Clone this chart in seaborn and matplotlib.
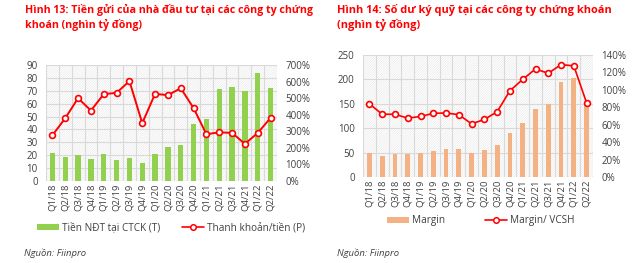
import matplotlib
matplotlib.use("Agg")
import matplotlib.pyplot as plt
import seaborn as sns
import pandas as pd
import numpy as np
from matplotlib.patches import Rectangle, Patch
from matplotlib.lines import Line2D

sns.set_theme(style="white")
plt.rcParams['font.family'] = ['Open Sans', 'DejaVu Sans']
plt.rcParams['hatch.linewidth'] = 0.4

quarters = ["Q1/18", "Q2/18", "Q3/18", "Q4/18", "Q1/19", "Q2/19", "Q3/19", "Q4/19",
            "Q1/20", "Q2/20", "Q3/20", "Q4/20", "Q1/21", "Q2/21", "Q3/21", "Q4/21",
            "Q1/22", "Q2/22"]
deposits = [22, 19, 20, 17, 21, 16, 18, 14, 21, 26, 28, 44, 48, 71, 73, 70, 84, 72]
liquidity_pct = [276, 379, 500, 425, 524, 532, 603, 349, 526, 518, 560, 440,
                 282, 294, 290, 224, 290, 381]
margin = [49, 43, 47, 47, 50, 54, 57, 58, 50, 56, 65, 91, 110, 139, 149, 195, 203, 147]
margin_vcsh_pct = [84, 72, 72, 67.5, 69.5, 73, 73.5, 71.5, 61, 66, 75, 99,
                   112, 124, 119, 129, 127.5, 85]

left_title = "Hình 13: Tiền gửi của nhà đầu tư tại các công ty chứng\nkhoán (nghìn tỷ đồng)"
right_title = "Hình 14: Số dư ký quỹ tại các công ty chứng khoán\n(nghìn tỷ đồng)"
source = "Nguồn: Fiinpro"

W, H = 640, 263
fig = plt.figure(figsize=(W / 100, H / 100), dpi=100)

GREEN = "#92D050"
ORANGE = "#F4B183"
RED = "#FF0000"
GRID = "#D9D9D9"
TXT = "#404040"


def ax_rect(x0, y0, x1, y1):
    return [x0 / W, 1 - y1 / H, (x1 - x0) / W, (y1 - y0) / H]


def style_axes(ax, ax2, n):
    bars = list(ax.patches)
    for p in bars:
        p.set_zorder(3)
        p.set_linewidth(0)
        p.set_edgecolor("none")
    ax.add_patch(Rectangle((0, 0), 1, 1, transform=ax.transAxes, facecolor="white",
                           edgecolor="#E6E6E6", hatch="/" * 14, lw=0, zorder=0))
    for a in (ax, ax2):
        for s in a.spines.values():
            s.set_visible(False)
    ax.set_xlim(-0.5, n - 0.5)
    ax.set_xticks(np.arange(-0.5, n, 1.0), minor=True)
    ax.grid(True, axis="y", color=GRID, lw=0.8, zorder=1)
    ax.grid(True, axis="x", which="minor", color=GRID, lw=0.8, zorder=1)
    ax.grid(False, axis="x", which="major")
    ax.tick_params(axis="x", which="both", length=0, labelsize=6.8, labelrotation=90,
                   colors=TXT, pad=2)
    ax.tick_params(axis="y", length=0, labelsize=7, colors=TXT, pad=6)
    ax2.tick_params(axis="y", length=0, labelsize=7, colors=TXT, pad=6)
    ax.set_xlabel("")
    ax.set_ylabel("")
    ax2.set_xlabel("")
    ax2.set_ylabel("")
    ax.set_axisbelow(True)


n = len(quarters)
df1 = pd.DataFrame({"q": quarters, "dep": deposits, "liq": np.array(liquidity_pct) / 100})
df2 = pd.DataFrame({"q": quarters, "m": margin, "r": np.array(margin_vcsh_pct) / 100})
df1["x"] = np.arange(n)
df2["x"] = np.arange(n)

# ---- Left chart
axL = fig.add_axes(ax_rect(46, 65, 277, 181))
sns.barplot(data=df1, x="q", y="dep", color=GREEN, width=0.42, saturation=1, ax=axL,
            linewidth=0, edgecolor="none")
axL.set_ylim(0, 90)
axL.set_yticks(np.arange(0, 91, 10))
axL2 = axL.twinx()
sns.lineplot(data=df1, x="x", y="liq", color=RED, lw=1.4, marker="o", markersize=4.2,
             markerfacecolor="white", markeredgecolor=RED, markeredgewidth=1.2, ax=axL2)
axL2.set_ylim(0, 7)
axL2.set_yticks(np.arange(0, 7.01, 1))
axL2.set_yticklabels([f"{int(v*100)}%" for v in np.arange(0, 7.01, 1)])
style_axes(axL, axL2, n)

# ---- Right chart
axR = fig.add_axes(ax_rect(363, 55, 593, 177))
sns.barplot(data=df2, x="q", y="m", color=ORANGE, width=0.38, saturation=1, ax=axR,
            linewidth=0, edgecolor="none")
axR.set_ylim(0, 250)
axR.set_yticks(np.arange(0, 251, 50))
axR2 = axR.twinx()
sns.lineplot(data=df2, x="x", y="r", color=RED, lw=1.2, marker="o", markersize=4.2,
             markerfacecolor="white", markeredgecolor=RED, markeredgewidth=1.2, ax=axR2)
axR2.set_ylim(0, 1.4)
axR2.set_yticks(np.arange(0, 1.41, 0.2))
axR2.set_yticklabels([f"{int(round(v*100))}%" for v in np.arange(0, 1.41, 0.2)])
style_axes(axR, axR2, n)

# ---- Titles
fig.text(25 / W, 1 - 4 / H, left_title, color=RED, fontsize=7.7, fontweight="bold",
         va="top", ha="left", linespacing=1.35)
fig.text(337 / W, 1 - 4 / H, right_title, color=RED, fontsize=7.9,
         fontweight="bold", va="top", ha="left", linespacing=1.35)

# ---- Legends
def line_handle():
    return Line2D([0], [0], color=RED, lw=1.2, marker="o", markersize=4,
                  markerfacecolor="white", markeredgecolor=RED, markeredgewidth=1.1)

fig.legend(handles=[Patch(facecolor=GREEN, edgecolor="none"), line_handle()],
           labels=["Tiền NĐT tại CTCK (T)", "Thanh khoản/tiền (P)"],
           loc="center", bbox_to_anchor=(171 / W, 1 - 228 / H), ncol=2, frameon=False,
           fontsize=7.2, handlelength=2.2, handleheight=0.5, columnspacing=2.2,
           handletextpad=0.3, labelcolor=TXT)
fig.legend(handles=[Patch(facecolor=ORANGE, edgecolor="none"), line_handle()],
           labels=["Margin", "Margin/ VCSH"],
           loc="center", bbox_to_anchor=(481 / W, 1 - 221 / H), ncol=2, frameon=False,
           fontsize=7.2, handlelength=2.2, handleheight=0.5, columnspacing=4.0,
           handletextpad=0.3, labelcolor=TXT)

fig.text(24 / W, 1 - 253 / H, source, fontsize=6.8, style="italic", color=TXT, va="center")
fig.text(337 / W, 1 - 253 / H, source, fontsize=6.8, style="italic", color=TXT, va="center")

fig.savefig("out.png", dpi=100)
